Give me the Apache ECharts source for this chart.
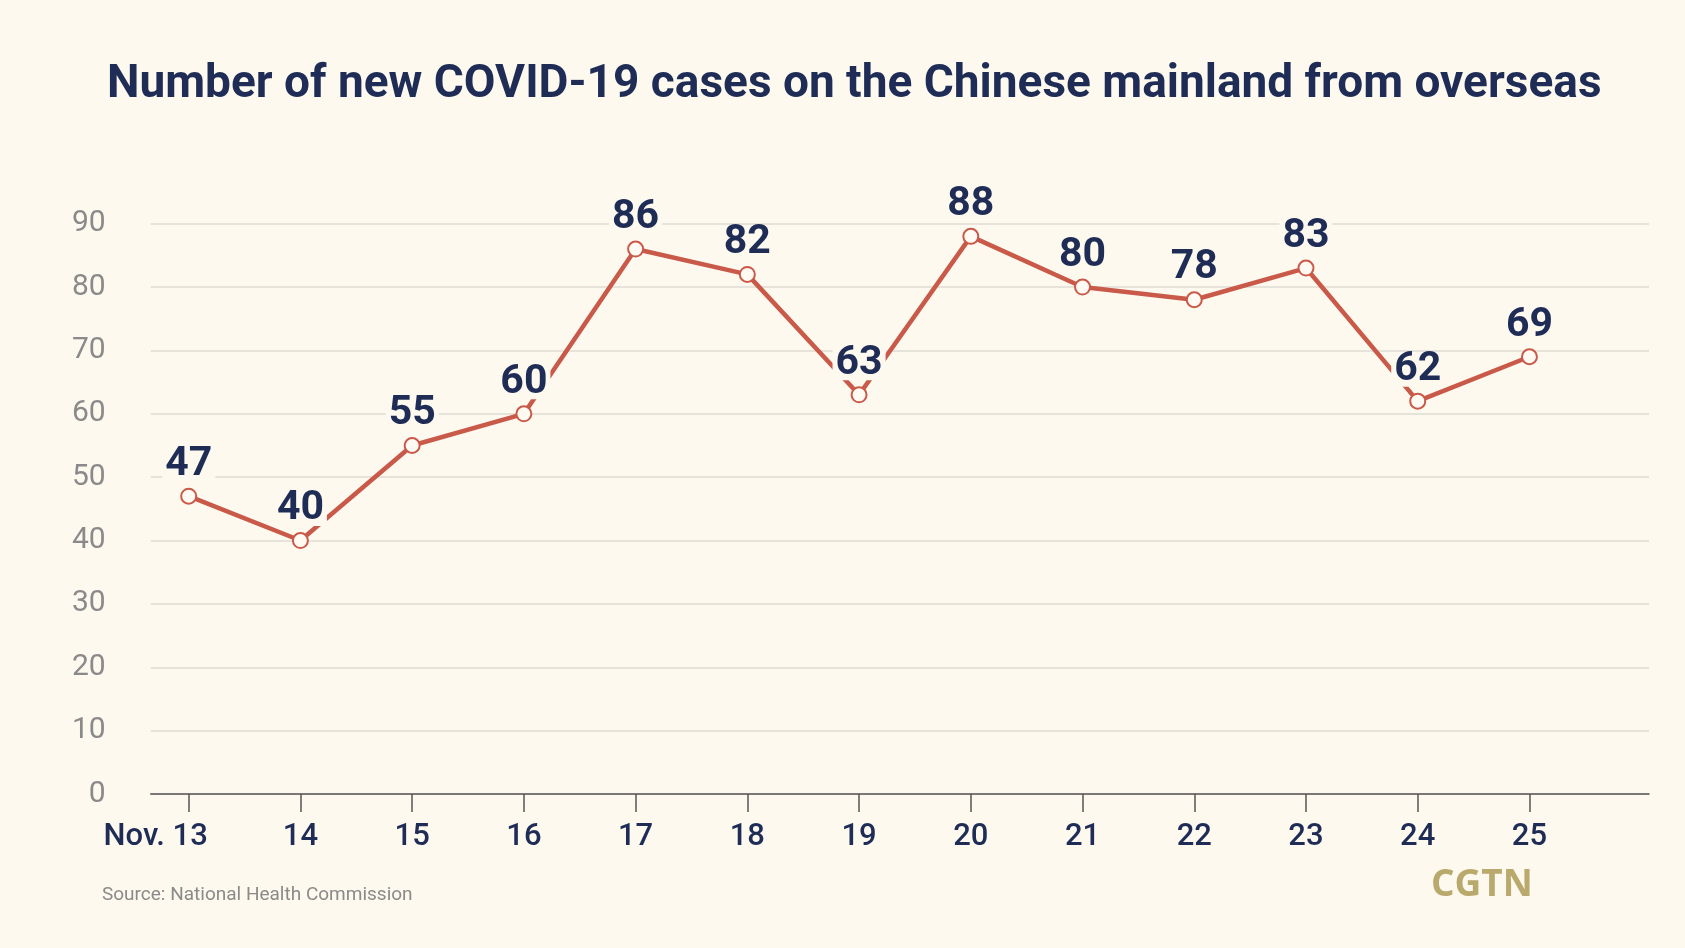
<!DOCTYPE html>
<html>
<head>
<meta charset="utf-8">
<script src="https://cdn.jsdelivr.net/npm/echarts@6/dist/echarts.min.js"></script>
<style>
html,body{margin:0;padding:0;background:#fdf9ef;}
#chart{width:1685px;height:948px;}
</style>
</head>
<body>
<div id="chart"></div>
<script>
const days = [13, 14, 15, 16, 17, 18, 19, 20, 21, 22, 23, 24, 25];
const dayLabels = ['Nov. 13', '14', '15', '16', '17', '18', '19', '20', '21', '22', '23', '24', '25'];
const cases = [47, 40, 55, 60, 86, 82, 63, 88, 80, 78, 83, 62, 69];
const yTicks = [0, 10, 20, 30, 40, 50, 60, 70, 80, 90];

const navy = '#1f2d56';
const bg = '#fdf9ef';
const chart = echarts.init(document.getElementById('chart'));
chart.setOption({
  backgroundColor: bg,
  animation: false,
  title: [{
    text: 'Number of new COVID-19 cases on the Chinese mainland from overseas',
    left: 102,
    top: 57,
    textStyle: { color: navy, fontFamily: 'Roboto, sans-serif', fontWeight: 'bold', fontSize: 46 }
  }, {
    text: 'Source: National Health Commission',
    left: 97,
    top: 881,
    textStyle: { color: '#8a8a88', fontFamily: 'Roboto, sans-serif', fontWeight: 'normal', fontSize: 19 }
  }, {
    text: 'CGTN',
    left: 1426,
    top: 862,
    textStyle: { color: '#b9a96c', fontFamily: '"Open Sans", sans-serif', fontWeight: 'bold', fontSize: 37 }
  }],
  grid: { left: 150.7, right: 36, top: 223.7, bottom: 154 },
  xAxis: {
    type: 'value',
    min: 12.66,
    max: 26.07,
    splitLine: { show: false },
    axisLine: { show: true, lineStyle: { color: '#555', width: 1.5 } },
    axisTick: { show: true, customValues: days, length: 18, lineStyle: { color: '#555', width: 1.5 } },
    axisLabel: {
      customValues: days,
      margin: 28,
      color: navy,
      fontFamily: 'Roboto, sans-serif',
      fontWeight: 500,
      fontSize: 31,
      formatter: v => {
        const i = days.indexOf(Math.round(v));
        if (i < 0) return '';
        return i === 0 ? '{first|' + dayLabels[i] + '}' : dayLabels[i];
      },
      rich: {
        first: { color: navy, fontFamily: 'Roboto, sans-serif', fontWeight: 500, fontSize: 31, padding: [0, 66, 0, 0] }
      }
    }
  },
  yAxis: {
    type: 'value',
    min: 0,
    max: 90,
    interval: 10,
    axisLine: { show: false },
    axisTick: { show: false },
    splitLine: { lineStyle: { color: '#e6e3da', width: 2 } },
    axisLabel: {
      margin: 45,
      color: '#8a8a8a',
      fontFamily: 'Roboto, sans-serif',
      fontWeight: 'normal',
      fontSize: 30,
      formatter: v => yTicks.includes(v) ? String(v) : ''
    }
  },
  series: [{
    type: 'line',
    data: days.map((d, i) => [d, cases[i]]),
    lineStyle: { color: '#c95a4a', width: 4.5 },
    itemStyle: { color: '#fffaf2', borderColor: '#c95a4a', borderWidth: 2 },
    symbol: 'circle',
    symbolSize: 15,
    label: {
      show: true,
      position: 'top',
      distance: 6,
      color: navy,
      fontFamily: 'Roboto, sans-serif',
      fontWeight: 'bold',
      fontSize: 41,
      lineHeight: 34,
      backgroundColor: bg,
      padding: [0, 3],
      formatter: p => String(p.value[1])
    },
    z: 3
  }]
});
</script>
</body>
</html>
